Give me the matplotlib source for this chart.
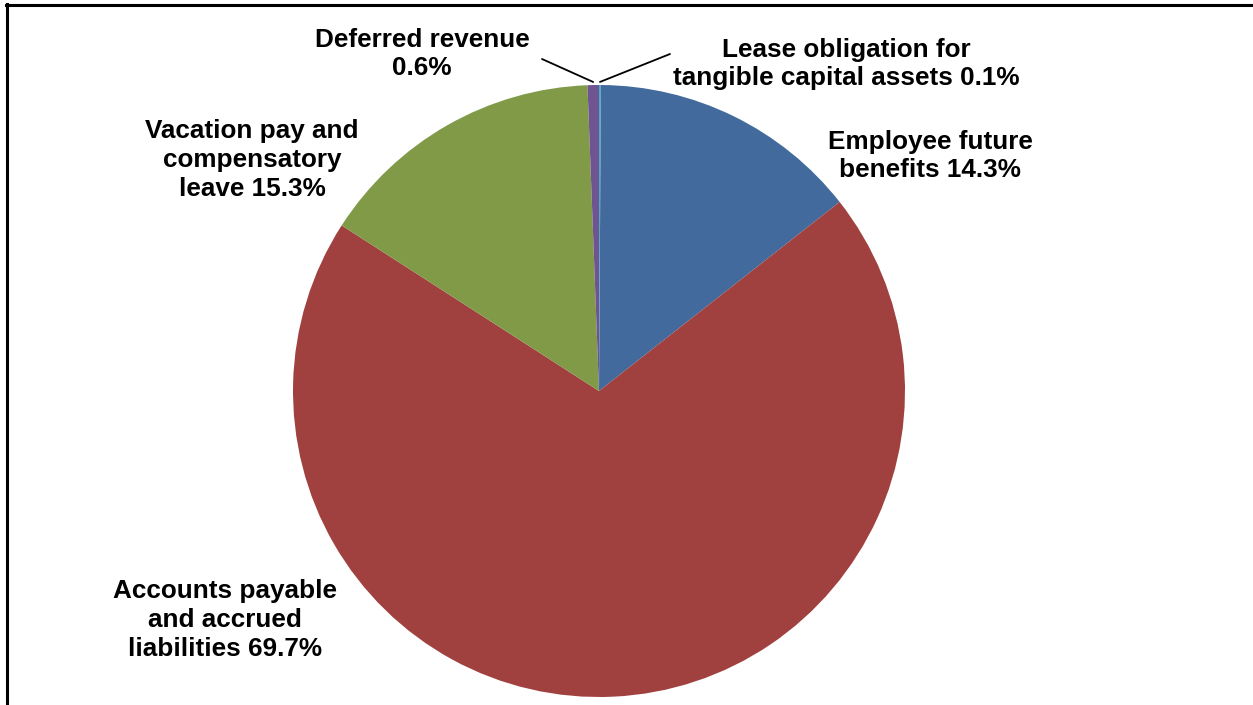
import numpy as np
import matplotlib
matplotlib.use("Agg")
import matplotlib.pyplot as plt
from matplotlib.lines import Line2D

# liabilities breakdown, clockwise from 12 o'clock
labels = ["Lease obligation for\ntangible capital assets 0.1%",
          "Employee future\nbenefits 14.3%",
          "Accounts payable\nand accrued\nliabilities 69.7%",
          "Vacation pay and\ncompensatory\nleave 15.3%",
          "Deferred revenue\n0.6%"]
shares = [0.1, 14.3, 69.7, 15.3, 0.6]
colors = ["#4BACC6", "#436A9C", "#A0413F", "#809A48", "#6E5490"]

W, H = 1253, 705
plt.rcParams['font.family'] = ['Liberation Sans', 'DejaVu Sans']

fig = plt.figure(figsize=(W / 100, H / 100), dpi=100)

# pie axes: centre (599, 391) px, radius 306 px
cx, cy, r = 599, 391, 306
ax = fig.add_axes([(cx - r) / W, (H - cy - r) / H, 2 * r / W, 2 * r / H])
wedges, _ = ax.pie(shares, colors=colors, startangle=90, counterclock=False,
                   radius=1.0, wedgeprops=dict(linewidth=0.4, edgecolor="none"))
ax.set_xlim(-1, 1)
ax.set_ylim(-1, 1)
ax.set_aspect("equal")
ax.axis("off")

# label centres in figure pixels (from top-left)
label_pos = [(846, 64), (930, 156), (225, 620), (252, 160), (422, 54)]
for text, (px, py) in zip(labels, label_pos):
    fig.text(px / W, 1 - py / H, text, ha="center", va="center",
             fontsize=18.8, fontweight="bold", linespacing=1.26)

# leader lines for the two small slices
leader_start = {0: (670, 54), 4: (542, 59)}
for i, (sx, sy) in leader_start.items():
    w = wedges[i]
    mid = np.deg2rad((w.theta1 + w.theta2) / 2)
    ex, ey = 1.01 * np.cos(mid), 1.01 * np.sin(mid)
    ax.annotate("", xy=(ex, ey), xycoords="data",
                xytext=(sx / W, 1 - sy / H), textcoords="figure fraction",
                annotation_clip=False,
                arrowprops=dict(arrowstyle="-", color="black", lw=1.3,
                                shrinkA=0, shrinkB=0))

# frame edges along the top and left
fig.add_artist(Line2D([6 / W, 1], [1 - 5 / H, 1 - 5 / H], color="black",
                      lw=2.2, transform=fig.transFigure))
fig.add_artist(Line2D([7 / W, 7 / W], [0, 1 - 4 / H], color="black",
                      lw=2.2, transform=fig.transFigure))

fig.savefig("out.png", dpi=100)
